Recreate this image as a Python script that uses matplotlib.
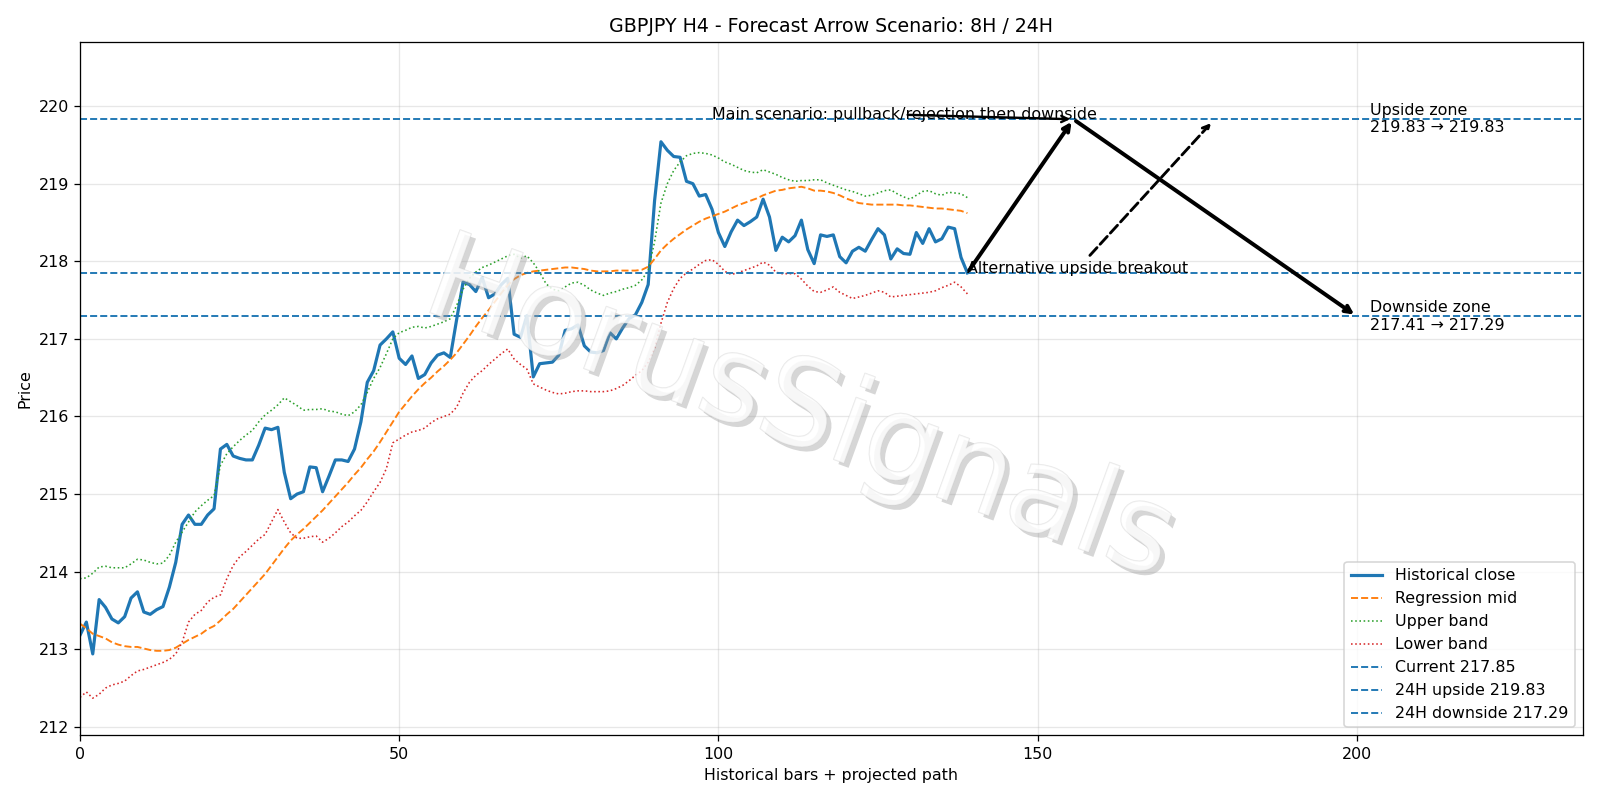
import numpy as np
import matplotlib
matplotlib.use('Agg')
import matplotlib.pyplot as plt
import matplotlib.patheffects as pe

# GBPJPY H4 closes, 140 bars
close = [
    213.18, 213.35, 212.94, 213.64, 213.54, 213.39, 213.34, 213.42, 213.66, 213.74,
    213.48, 213.45, 213.51, 213.55, 213.80, 214.12, 214.61, 214.73, 214.61, 214.61,
    214.73, 214.81, 215.58, 215.64, 215.49, 215.46, 215.44, 215.44, 215.63, 215.85,
    215.83, 215.86, 215.28, 214.94, 215.00, 215.03, 215.35, 215.34, 215.03, 215.23,
    215.44, 215.44, 215.42, 215.58, 215.93, 216.44, 216.59, 216.92, 217.00, 217.09,
    216.75, 216.67, 216.78, 216.49, 216.54, 216.69, 216.79, 216.82, 216.76, 217.25,
    217.73, 217.70, 217.61, 217.79, 217.53, 217.58, 217.70, 217.78, 217.06, 217.02,
    217.30, 216.51, 216.68, 216.69, 216.70, 216.79, 217.11, 217.13, 217.18, 216.91,
    216.83, 216.82, 216.85, 217.08, 217.00, 217.14, 217.26, 217.31, 217.47, 217.70,
    218.78, 219.54, 219.43, 219.35, 219.34, 219.03, 219.00, 218.84, 218.86, 218.67,
    218.37, 218.19, 218.38, 218.53, 218.46, 218.51, 218.57, 218.80, 218.57, 218.14,
    218.31, 218.25, 218.33, 218.53, 218.15, 217.97, 218.34, 218.32, 218.34, 218.06,
    217.98, 218.13, 218.18, 218.13, 218.28, 218.42, 218.34, 218.03, 218.16, 218.10,
    218.09, 218.37, 218.23, 218.42, 218.25, 218.29, 218.44, 218.42, 218.05, 217.85,
]

reg_mid = [
    213.33, 213.27, 213.20, 213.17, 213.14, 213.09, 213.06, 213.04, 213.03, 213.03,
    213.01, 212.99, 212.98, 212.98, 212.99, 213.02, 213.07, 213.12, 213.16, 213.20,
    213.26, 213.30, 213.37, 213.45, 213.52, 213.61, 213.70, 213.79, 213.88, 213.97,
    214.08, 214.19, 214.30, 214.40, 214.48, 214.55, 214.63, 214.71, 214.79, 214.88,
    214.97, 215.06, 215.15, 215.25, 215.34, 215.45, 215.55, 215.67, 215.80, 215.93,
    216.06, 216.16, 216.26, 216.35, 216.43, 216.50, 216.58, 216.65, 216.73, 216.82,
    216.93, 217.04, 217.16, 217.27, 217.37, 217.48, 217.59, 217.69, 217.77, 217.82,
    217.85, 217.87, 217.88, 217.89, 217.90, 217.91, 217.92, 217.92, 217.91, 217.90,
    217.88, 217.87, 217.87, 217.87, 217.88, 217.88, 217.88, 217.88, 217.89, 217.93,
    218.03, 218.14, 218.22, 218.29, 218.35, 218.41, 218.46, 218.51, 218.55, 218.58,
    218.61, 218.64, 218.68, 218.72, 218.75, 218.78, 218.81, 218.85, 218.88, 218.91,
    218.92, 218.94, 218.95, 218.96, 218.94, 218.91, 218.91, 218.90, 218.88, 218.85,
    218.81, 218.78, 218.75, 218.74, 218.73, 218.73, 218.73, 218.73, 218.73, 218.72,
    218.72, 218.71, 218.70, 218.69, 218.68, 218.68, 218.67, 218.66, 218.65, 218.62,
]

upper_band = [
    213.91, 213.92, 213.98, 214.06, 214.07, 214.05, 214.05, 214.05, 214.10, 214.16,
    214.15, 214.12, 214.10, 214.11, 214.21, 214.38, 214.51, 214.64, 214.77, 214.85,
    214.92, 214.98, 215.37, 215.52, 215.61, 215.69, 215.76, 215.82, 215.93, 216.02,
    216.08, 216.15, 216.24, 216.19, 216.14, 216.08, 216.09, 216.09, 216.10, 216.07,
    216.06, 216.03, 216.01, 216.06, 216.15, 216.31, 216.49, 216.63, 216.81, 217.00,
    217.08, 217.11, 217.15, 217.16, 217.14, 217.16, 217.19, 217.22, 217.26, 217.43,
    217.64, 217.78, 217.86, 217.92, 217.95, 217.99, 218.03, 218.07, 218.09, 218.04,
    218.07, 217.98, 217.86, 217.71, 217.64, 217.62, 217.67, 217.72, 217.73, 217.69,
    217.63, 217.59, 217.56, 217.59, 217.61, 217.64, 217.66, 217.69, 217.76, 217.88,
    218.25, 218.75, 219.00, 219.17, 219.28, 219.36, 219.39, 219.40, 219.39, 219.37,
    219.33, 219.28, 219.25, 219.21, 219.17, 219.15, 219.14, 219.18, 219.15, 219.12,
    219.08, 219.05, 219.03, 219.04, 219.04, 219.05, 219.05, 219.01, 218.98, 218.95,
    218.92, 218.90, 218.87, 218.84, 218.85, 218.88, 218.91, 218.92, 218.87, 218.83,
    218.80, 218.85, 218.90, 218.91, 218.87, 218.85, 218.89, 218.88, 218.87, 218.82,
]

lower_band = [
    212.38, 212.45, 212.37, 212.42, 212.50, 212.54, 212.56, 212.59, 212.66, 212.72,
    212.74, 212.77, 212.80, 212.83, 212.87, 212.94, 213.09, 213.35, 213.45, 213.50,
    213.61, 213.67, 213.70, 213.91, 214.08, 214.19, 214.26, 214.34, 214.42, 214.48,
    214.64, 214.80, 214.64, 214.50, 214.43, 214.43, 214.45, 214.46, 214.38, 214.43,
    214.50, 214.58, 214.64, 214.72, 214.79, 214.90, 215.03, 215.15, 215.33, 215.66,
    215.71, 215.76, 215.80, 215.82, 215.85, 215.92, 215.97, 216.00, 216.03, 216.12,
    216.30, 216.44, 216.53, 216.59, 216.67, 216.74, 216.81, 216.87, 216.74, 216.67,
    216.61, 216.42, 216.38, 216.34, 216.31, 216.29, 216.30, 216.32, 216.33, 216.33,
    216.32, 216.32, 216.32, 216.33, 216.36, 216.40, 216.46, 216.53, 216.59, 216.70,
    216.88, 217.20, 217.47, 217.65, 217.78, 217.85, 217.90, 217.96, 218.01, 218.02,
    217.96, 217.87, 217.83, 217.85, 217.88, 217.91, 217.94, 217.99, 217.95, 217.86,
    217.84, 217.84, 217.84, 217.77, 217.68, 217.61, 217.60, 217.63, 217.67, 217.60,
    217.56, 217.52, 217.54, 217.56, 217.59, 217.62, 217.60, 217.54, 217.55, 217.56,
    217.57, 217.58, 217.59, 217.60, 217.62, 217.66, 217.69, 217.73, 217.67, 217.58,
]

current = 217.85
upside = 219.83
downside = 217.29
down_zone_start = 217.41
peak_x = 155.6
end_x = 200

x = np.arange(len(close))
last_x = x[-1]

fig, ax = plt.subplots(figsize=(14, 7), dpi=800 / 7)

ax.plot(x, close, color='C0', lw=2, label='Historical close')
ax.plot(x, reg_mid, color='C1', ls='--', lw=1.2, label='Regression mid')
ax.plot(x, upper_band, color='C2', ls=':', lw=1, label='Upper band')
ax.plot(x, lower_band, color='C3', ls=':', lw=1, label='Lower band')

ax.axhline(current, color='C0', ls='--', lw=1.2, label=f'Current {current:.2f}')
ax.axhline(upside, color='C0', ls='--', lw=1.2, label=f'24H upside {upside:.2f}')
ax.axhline(downside, color='C0', ls='--', lw=1.2, label=f'24H downside {downside:.2f}')

# main path: up to the zone, then down
ax.annotate('', xy=(peak_x, upside), xytext=(last_x, current),
            arrowprops=dict(arrowstyle='->', lw=2.5, color='black'))
ax.annotate('', xy=(end_x, downside), xytext=(peak_x, upside),
            arrowprops=dict(arrowstyle='->', lw=2.5, color='black'))

ax.annotate('Main scenario: pullback/rejection then downside', xy=(peak_x, upside),
            xytext=(99, upside),
            arrowprops=dict(arrowstyle='->', lw=1.5, color='black'))
ax.annotate('Alternative upside breakout', xy=(177.5, upside - 0.02),
            xytext=(last_x, current),
            arrowprops=dict(arrowstyle='->', lw=1.8, ls='--', color='black'))

ax.text(end_x + 2, upside, f'Upside zone\n{upside:.2f} \u2192 {upside:.2f}', va='center')
ax.text(end_x + 2, downside, f'Downside zone\n{down_zone_start:.2f} \u2192 {downside:.2f}', va='center')

# watermark
fig.text(0.5, 0.485, 'HorusSignals', fontsize=76, color='white', alpha=0.45,
         rotation=-20, ha='center', va='center', zorder=10,
         path_effects=[pe.withSimplePatchShadow(offset=(3, -3), shadow_rgbFace='#999999', alpha=0.4),
                       pe.withStroke(linewidth=0.8, foreground='#cccccc')])

ax.set_xlim(0, 235.4)
ax.set_ylim(211.89, 220.83)
ax.set_title('GBPJPY H4 - Forecast Arrow Scenario: 8H / 24H')
ax.set_xlabel('Historical bars + projected path')
ax.set_ylabel('Price')
ax.grid(True, alpha=0.3)
ax.legend(loc='lower right')

plt.tight_layout()
plt.savefig('out.png')
